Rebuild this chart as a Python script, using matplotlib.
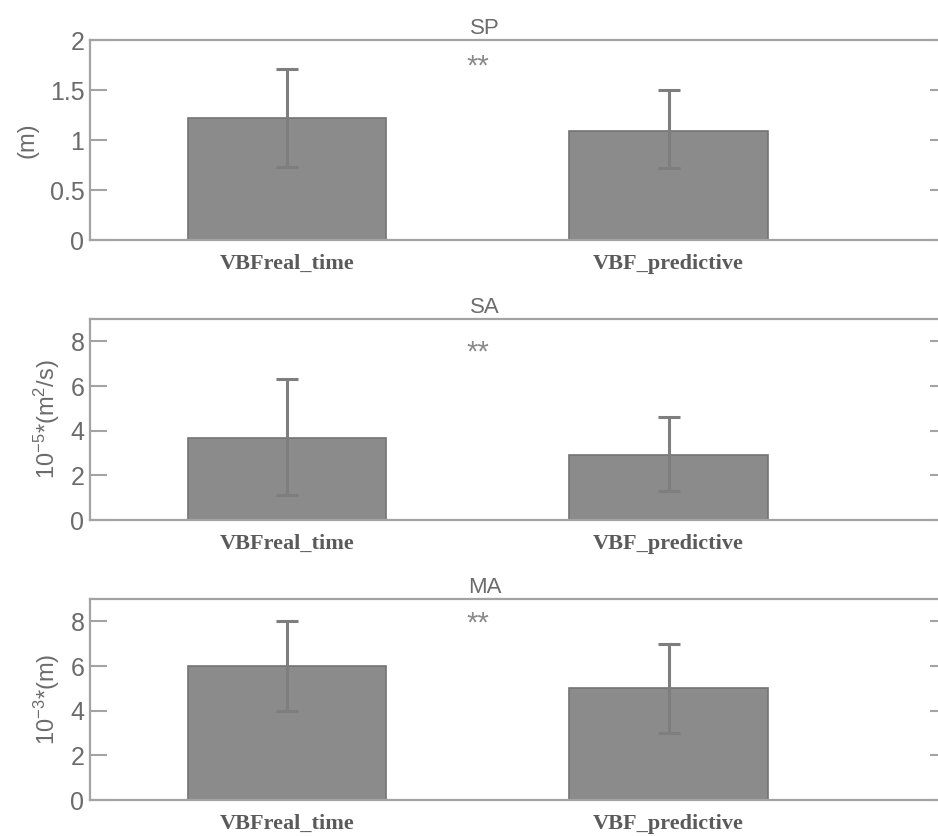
import matplotlib
matplotlib.use("Agg")
import matplotlib.pyplot as plt

# Data: group means with lower/upper error extents
categories = ["VBFreal_time", "VBF_predictive"]
titles = ["SP", "SA", "MA"]
ylabels = ["(m)", r"10$^{-5}$*(m$^2$/s)", r"10$^{-3}$*(m)"]

sp_means = [1.22, 1.09]
sp_err_low = [0.49, 0.37]
sp_err_high = [0.49, 0.41]

sa_means = [3.67, 2.92]
sa_err_low = [2.56, 1.63]
sa_err_high = [2.66, 1.67]

ma_means = [6.0, 5.0]
ma_err_low = [2.0, 2.0]
ma_err_high = [2.0, 2.0]

ylims = [2, 9, 9]
yticks = [[0, 0.5, 1, 1.5, 2], [0, 2, 4, 6, 8], [0, 2, 4, 6, 8]]
ytick_labels = [["0", "0.5", "1", "1.5", "2"], ["0", "2", "4", "6", "8"], ["0", "2", "4", "6", "8"]]
star_y = [1.8, 7.8, 8.2]

plt.rcParams["font.family"] = ["Liberation Sans", "DejaVu Sans"]
plt.rcParams["mathtext.fontset"] = "custom"
plt.rcParams["mathtext.rm"] = "Liberation Sans"
plt.rcParams["mathtext.it"] = "Liberation Sans"

W, H = 938, 836
fig = plt.figure(figsize=(W / 100, H / 100), dpi=100)

axis_gray = "#a3a3a3"
text_gray = "#6b6b6b"
bar_fill = "#8b8b8b"
bar_edge = "#737373"
err_col = "#7e7e7e"

# axes boxes in pixels: (top, bottom)
boxes = [(40, 240), (319, 520), (599, 800)]
left_px, right_px = 90, 947

series = [
    (sp_means, sp_err_low, sp_err_high),
    (sa_means, sa_err_low, sa_err_high),
    (ma_means, ma_err_low, ma_err_high),
]

xpos = [1, 2]
for i, (top, bot) in enumerate(boxes):
    ax = fig.add_axes([left_px / W, (H - bot) / H, (right_px - left_px) / W, (bot - top) / H])
    means, lo, hi = series[i]
    ax.bar(xpos, means, width=0.52, color=bar_fill, edgecolor=bar_edge, linewidth=1.2, zorder=2)
    ax.errorbar(xpos, means, yerr=[lo, hi], fmt="none", ecolor=err_col,
                elinewidth=2.2, capsize=8, capthick=2.2, zorder=3)
    ax.set_xlim(0.4826, 2.730)
    ax.set_ylim(0, ylims[i])
    ax.set_yticks(yticks[i])
    ax.set_yticklabels(ytick_labels[i])
    ax.set_xticks(xpos)
    ax.set_xticklabels(categories, fontfamily="Liberation Serif", fontweight="bold",
                       fontsize=16, color="#5a5a5a")
    ax.tick_params(axis="x", length=0, pad=10)
    ax.tick_params(axis="y", direction="in", length=12, width=1.5, color=axis_gray,
                   labelsize=18, labelcolor=text_gray, pad=4, right=True)
    for s in ax.spines.values():
        s.set_color(axis_gray)
        s.set_linewidth(1.6)
    ax.set_title(titles[i], x=0.461, fontsize=16, color=text_gray, pad=4)
    ax.annotate("**", xy=(1.5, star_y[i]), xytext=(0, -5), textcoords="offset points",
                ha="center", va="center", fontsize=21, color="#8a8a8a")
    ax.set_ylabel(ylabels[i], fontsize=17, color=text_gray, labelpad=6 if i else 8)

fig.savefig("out.png", dpi=100, facecolor="white")
